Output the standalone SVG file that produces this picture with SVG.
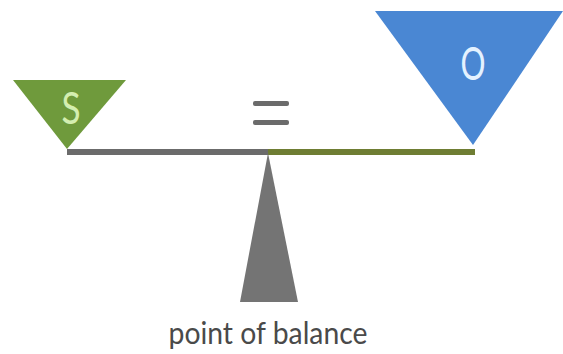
<svg xmlns="http://www.w3.org/2000/svg" width="563" height="354" viewBox="0 0 563 354">
<style>
.lbl{font-family:Lato,"Open Sans","Liberation Sans",sans-serif;text-anchor:middle}
</style>
<rect width="563" height="354" fill="#ffffff"/>
<g id="connectors">
<line x1="67" y1="152" x2="268" y2="152" stroke="#6b6b6b" stroke-width="6"/>
<line x1="268" y1="152" x2="475" y2="152" stroke="#6f7d33" stroke-width="6"/>
</g>
<g id="fulcrum">
<polygon points="268,153 240,302 298,302" fill="#747474"/>
</g>
<g id="equals">
<rect x="253" y="101" width="36" height="5" rx="2" fill="#6b6b6b"/>
<rect x="253" y="120" width="36" height="5" rx="2" fill="#6b6b6b"/>
</g>
<g id="node-s">
<polygon points="13,80 126,80 67,149" fill="#6f9a3c"/>
<text class="lbl" transform="translate(71,124) scale(0.8,1)" font-size="44" fill="#d4eeb0">S</text>
</g>
<g id="node-o">
<polygon points="375,11 563,11 473,145" fill="#4a87d3"/>
<text class="lbl" transform="translate(473,80) scale(0.68,1)" font-size="46" fill="#e4f2ff">O</text>
</g>
<g id="label">
<text class="lbl" x="268" y="344" font-size="30" fill="#4a4a4a" textLength="199" lengthAdjust="spacingAndGlyphs">point of balance</text>
</g>
</svg>
